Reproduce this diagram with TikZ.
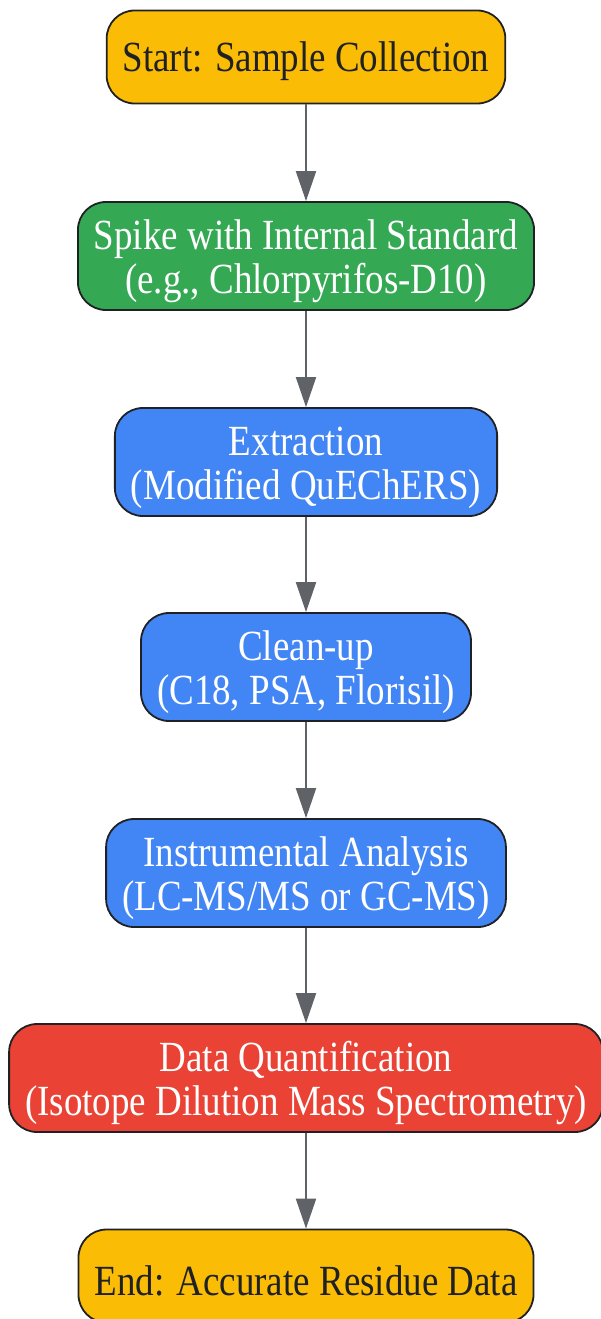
\documentclass[tikz,border=0pt]{standalone}
\usepackage{fontspec}
\setmainfont{Liberation Serif}[FakeStretch=0.86]
\usepackage{tikz}
\usetikzlibrary{arrows.meta}
\definecolor{colorstart}{HTML}{FABC05}
\definecolor{colorspike}{HTML}{34A853}
\definecolor{colorstep}{HTML}{4285F4}
\definecolor{colorquant}{HTML}{EA4335}
\definecolor{colorline}{HTML}{202124}
\definecolor{colorarrow}{HTML}{5F6368}
\tikzset{stage/.style={draw=colorline, line width=1.8pt, rounded corners=28pt,
  inner xsep=16pt, inner ysep=0pt, align=center,
  font=\fontsize{43}{44}\selectfont}}
\tikzset{endpt/.style={stage, fill=colorstart, text=colorline, text height=39pt,
  minimum height=93pt}}
\tikzset{twoline/.style={stage, text=white, text height=85pt, minimum height=108pt}}
\tikzset{
  edgeflow/.style={colorarrow, line width=2pt,
    -{Triangle[width=20pt,length=30pt]}}
}

\begin{document}
\begin{tikzpicture}[x=1pt,y=1pt]
\useasboundingbox (0,0) rectangle (601,-1319);

\node[endpt](start) at (306,-57)
{Start: Sample Collection};

\node[twoline, fill=colorspike](spike) at (306,-256)
{Spike with Internal Standard\\(e.g., Chlorpyrifos-D10)};

\node[twoline, fill=colorstep](extr) at (306,-462)
{Extraction\\(Modified QuEChERS)};

\node[twoline, fill=colorstep](clean) at (306,-667)
{Clean-up\\(C18, PSA, Florisil)};

\node[twoline, fill=colorstep](instr) at (306,-873)
{Instrumental Analysis\\(LC-MS/MS or GC-MS)};

\node[twoline, fill=colorquant](quant) at (306,-1078)
{Data Quantification\\(Isotope Dilution Mass Spectrometry)};

\node[endpt](end) at (306,-1276)
{End: Accurate Residue Data};

\draw[edgeflow] (start) -- (spike);
\draw[edgeflow] (spike) -- (extr);
\draw[edgeflow] (extr) -- (clean);
\draw[edgeflow] (clean) -- (instr);
\draw[edgeflow] (instr) -- (quant);
\draw[edgeflow] (quant) -- (end);
\end{tikzpicture}
\end{document}
